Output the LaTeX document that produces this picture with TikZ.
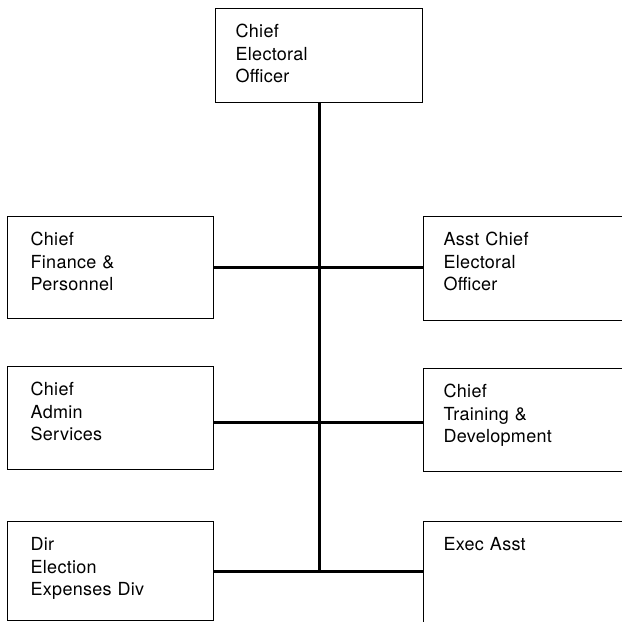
\documentclass[tikz,border=0pt]{standalone}
\usepackage{fontspec}
\newfontfamily\postfont{TeX Gyre Heros}[LetterSpace=1.5]
\usepackage{tikz}

\begin{document}
\begin{tikzpicture}[x=1pt,y=1pt,
  post/.style={draw,line width=1.4pt,anchor=north west,align=left,
    inner xsep=20pt,inner ysep=17pt,text height=12pt,
    font=\postfont\fontsize{18}{22.5}\selectfont},
  link/.style={line width=3.2pt}]
\useasboundingbox (0,0) rectangle (622,-622);
% chief at the top
\node[post,text width=167pt,text depth=48pt] (ceo) at (215,-8) {Chief\\Electoral\\Officer};
% left column
\node[post,inner xsep=23pt,text width=160pt,text depth=56pt] (fin) at (7,-216) {Chief\\Finance \&\\Personnel};
\node[post,inner xsep=23pt,text width=160pt,text depth=57pt] (adm) at (7,-366) {Chief\\Admin\\Services};
\node[post,inner xsep=23pt,text width=160pt,text depth=53pt] (exp) at (7,-521) {Dir\\Election\\Expenses Div};
% right column, runs off the page
\node[post,text width=167pt,text depth=58pt] (asst) at (423,-216) {Asst Chief\\Electoral\\Officer};
\node[post,text width=167pt,text depth=57pt] (trn) at (423,-368) {Chief\\Training \&\\Development};
\node[post,text width=167pt,text depth=64pt] (exec) at (423,-521) {Exec Asst};
% links
\draw[link] (ceo.south) -- (ceo.south |- exp.east);
\draw[link] (fin.east) -- (fin.east -| asst.west);
\draw[link] ([yshift=-4pt]adm.east) -- ([yshift=-4pt]adm.east -| trn.west);
\draw[link] (exp.east) -- (exp.east -| exec.west);
\end{tikzpicture}
\end{document}
